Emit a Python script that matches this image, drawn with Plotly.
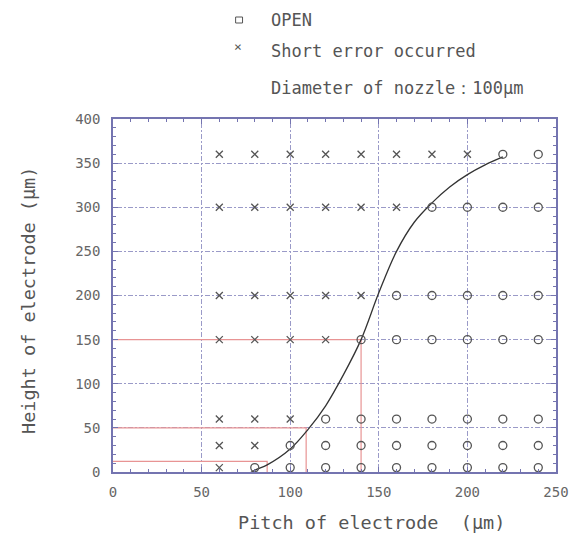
import plotly.graph_objects as go

# ---------------- data ----------------
pitch = [60, 80, 100, 120, 140, 160, 180, 200, 220, 240]
heights = [5, 30, 60, 150, 200, 300, 360]
# first pitch at which each height is OPEN (below it: short error)
open_from = {5: 80, 30: 100, 60: 120, 150: 140, 200: 160, 300: 180, 360: 220}

curve_x = [72, 80, 87, 100, 110, 120, 130, 140, 150, 160, 170, 180, 190, 200, 210, 220]
curve_y = [-8, 2, 8, 26, 48, 75, 110, 150, 203, 250, 283, 305, 323, 337, 348, 357]

guide_h = [12, 50, 150]
guide_p = [87, 109, 140]

x_ticks = [0, 50, 100, 150, 200, 250]
y_ticks = [0, 50, 100, 150, 200, 250, 300, 350, 400]

open_x, open_y, short_x, short_y = [], [], [], []
for h in heights:
    for p in pitch:
        if p >= open_from[h]:
            open_x.append(p); open_y.append(h)
        else:
            short_x.append(p); short_y.append(h)

MARK = "#555555"
TXT = "#555555"
FONT = "DejaVu Sans Mono"
AX = "#7474b0"

fig = go.Figure()

# red guide lines
for h, p in zip(guide_h, guide_p):
    fig.add_trace(go.Scatter(x=[0, p, p], y=[h, h, 0], mode="lines",
                             line=dict(color="#e89494", width=1.2),
                             showlegend=False, hoverinfo="skip"))

fig.add_trace(go.Scatter(x=curve_x, y=curve_y, mode="lines",
                         line=dict(color="#333333", width=1.3, shape="spline"),
                         showlegend=False))

fig.add_trace(go.Scatter(x=open_x, y=open_y, mode="markers", name="OPEN",
                         marker=dict(symbol="circle-open", size=8,
                                     line=dict(color=MARK, width=1.3), color=MARK),
                         showlegend=False))
fig.add_trace(go.Scatter(x=short_x, y=short_y, mode="markers", name="Short error occurred",
                         marker=dict(symbol="x-thin-open", size=7,
                                     line=dict(color=MARK, width=1.3), color=MARK),
                         showlegend=False))

axis_common = dict(
    showline=True, mirror="ticks", linecolor=AX, linewidth=1.5,
    ticks="inside", ticklen=5, tickcolor=AX,
    showgrid=True, gridcolor="#9a9ac8", gridwidth=1, griddash="2px,2px,5px,2px",
    zeroline=False,
    tickfont=dict(family=FONT, size=14, color="#666666"),
    minor=dict(dtick=10, ticks="inside", ticklen=3, tickcolor=AX, showgrid=False),
)

fig.update_xaxes(range=[0, 250], tickvals=x_ticks, ticklabelstandoff=6, **axis_common)
fig.update_yaxes(range=[0, 400], tickvals=y_ticks, ticklabelstandoff=8, **axis_common)

L, R, T, B = 113, 561, 119, 472

def px(xp):
    return (xp - L) / (R - L)

def py(yp):
    return (B - yp) / (B - T)

ann = [
    dict(text="OPEN", x=px(271), y=py(20)),
    dict(text="Short error occurred", x=px(271), y=py(51)),
    dict(text="Diameter of nozzle：100μm", x=px(271), y=py(88)),
]
for a in ann:
    fig.add_annotation(text=a["text"], x=a["x"], y=a["y"], xref="paper", yref="paper",
                       xanchor="left", yanchor="middle", showarrow=False,
                       font=dict(family=FONT, size=17, color=TXT))

fig.add_annotation(text="×", x=px(239), y=py(46), xref="paper", yref="paper",
                   xanchor="center", yanchor="middle",
                   showarrow=False, font=dict(family=FONT, size=13, color=TXT))
fig.add_shape(type="rect", xref="paper", yref="paper",
              x0=px(237), x1=px(244), y0=py(23), y1=py(17),
              line=dict(color=TXT, width=1))

fig.add_annotation(text="Pitch of electrode  (μm)", x=px(237), y=py(522),
                   xref="paper", yref="paper", showarrow=False,
                   xanchor="left", yanchor="middle",
                   font=dict(family=FONT, size=18.5, color=TXT))
fig.add_annotation(text="Height of electrode (μm)", x=px(27), y=py(300),
                   xref="paper", yref="paper", showarrow=False, textangle=-90,
                   xanchor="center", yanchor="middle",
                   font=dict(family=FONT, size=18.5, color=TXT))

fig.update_layout(width=581, height=533,
                  margin=dict(l=L, r=581 - R, t=T, b=533 - B),
                  paper_bgcolor="white", plot_bgcolor="white",
                  showlegend=False)

fig.write_html("out.html")
